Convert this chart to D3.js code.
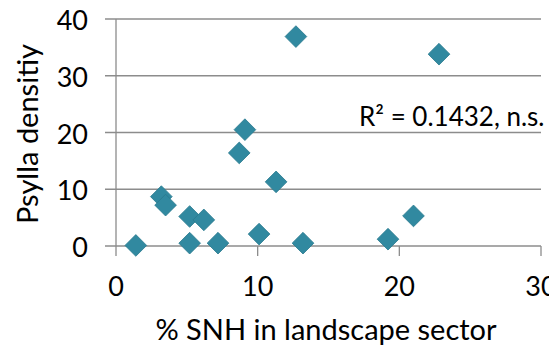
<!DOCTYPE html>
<html>
<head>
<meta charset="utf-8">
<script src="https://cdn.jsdelivr.net/npm/d3@7"></script>
<style>
  body { margin: 0; background: #fff; }
  svg text { font-family: "Lato", "Open Sans", sans-serif; fill: #000; }
</style>
</head>
<body>
<script>
/* data */
var snh = [1.4, 3.2, 3.5, 5.2, 6.2, 5.2, 7.2, 10.1, 11.3, 9.1, 8.7, 12.7, 22.8, 13.2, 19.2, 21.0];
var psylla = [0.1, 8.7, 7.2, 5.2, 4.6, 0.5, 0.5, 2.1, 11.3, 20.5, 16.4, 36.9, 33.8, 0.5, 1.2, 5.3];
var xTicks = [0, 10, 20, 30];
var yTicks = [0, 10, 20, 30, 40];
var label = "R\u00b2 = 0.1432, n.s.";

var W = 549, H = 348;
var m = {top: 19, right: 8, bottom: 102, left: 116};

var svg = d3.select("body").append("svg")
    .attr("width", W)
    .attr("height", H);

var x = d3.scaleLinear().domain([0, 30]).range([m.left, W - m.right]);
var y = d3.scaleLinear().domain([0, 40]).range([H - m.bottom, m.top]);

// horizontal gridlines (extend left as ticks)
svg.append("g")
  .selectAll("line")
  .data(yTicks)
  .join("line")
    .attr("x1", m.left - 11)
    .attr("x2", W - m.right)
    .attr("y1", d => y(d))
    .attr("y2", d => y(d))
    .attr("stroke", "#8c8c8c")
    .attr("stroke-width", 1.3);

// y axis line
svg.append("line")
    .attr("x1", x(0)).attr("x2", x(0))
    .attr("y1", y(40)).attr("y2", y(0) + 10)
    .attr("stroke", "#8c8c8c")
    .attr("stroke-width", 1.3);

// x tick marks
svg.append("g")
  .selectAll("line")
  .data(xTicks.slice(1))
  .join("line")
    .attr("x1", d => x(d)).attr("x2", d => x(d))
    .attr("y1", y(0)).attr("y2", y(0) + 10)
    .attr("stroke", "#8c8c8c")
    .attr("stroke-width", 1.3);

// tick labels
svg.append("g")
  .selectAll("text")
  .data(yTicks)
  .join("text")
    .attr("x", 88)
    .attr("y", d => y(d) + 11)
    .attr("text-anchor", "end")
    .attr("font-size", 27)
    .text(d => d);

svg.append("g")
  .selectAll("text")
  .data(xTicks)
  .join("text")
    .attr("x", d => x(d))
    .attr("y", 296)
    .attr("text-anchor", "middle")
    .attr("font-size", 27)
    .text(d => d);

// axis titles
svg.append("text")
    .attr("x", 326)
    .attr("y", 340)
    .attr("text-anchor", "middle")
    .attr("font-size", 29)
    .text("% SNH in landscape sector");

svg.append("text")
    .attr("transform", "translate(38,134) rotate(-90)")
    .attr("text-anchor", "middle")
    .attr("font-size", 29)
    .text("Psylla densitiy");

// points
var diamond = d3.symbol().type(d3.symbolDiamond2).size(300);
svg.append("g")
  .selectAll("path")
  .data(snh.map((d, i) => [d, psylla[i]]))
  .join("path")
    .attr("d", diamond)
    .attr("transform", d => "translate(" + x(d[0]) + "," + y(d[1]) + ")")
    .attr("fill", "#3189a0")
    .attr("stroke", "#2a7a8e")
    .attr("stroke-width", 0.8);

// annotation
svg.append("text")
    .attr("x", 359)
    .attr("y", 126)
    .attr("font-size", 26)
    .text(label);
</script>
</body>
</html>
